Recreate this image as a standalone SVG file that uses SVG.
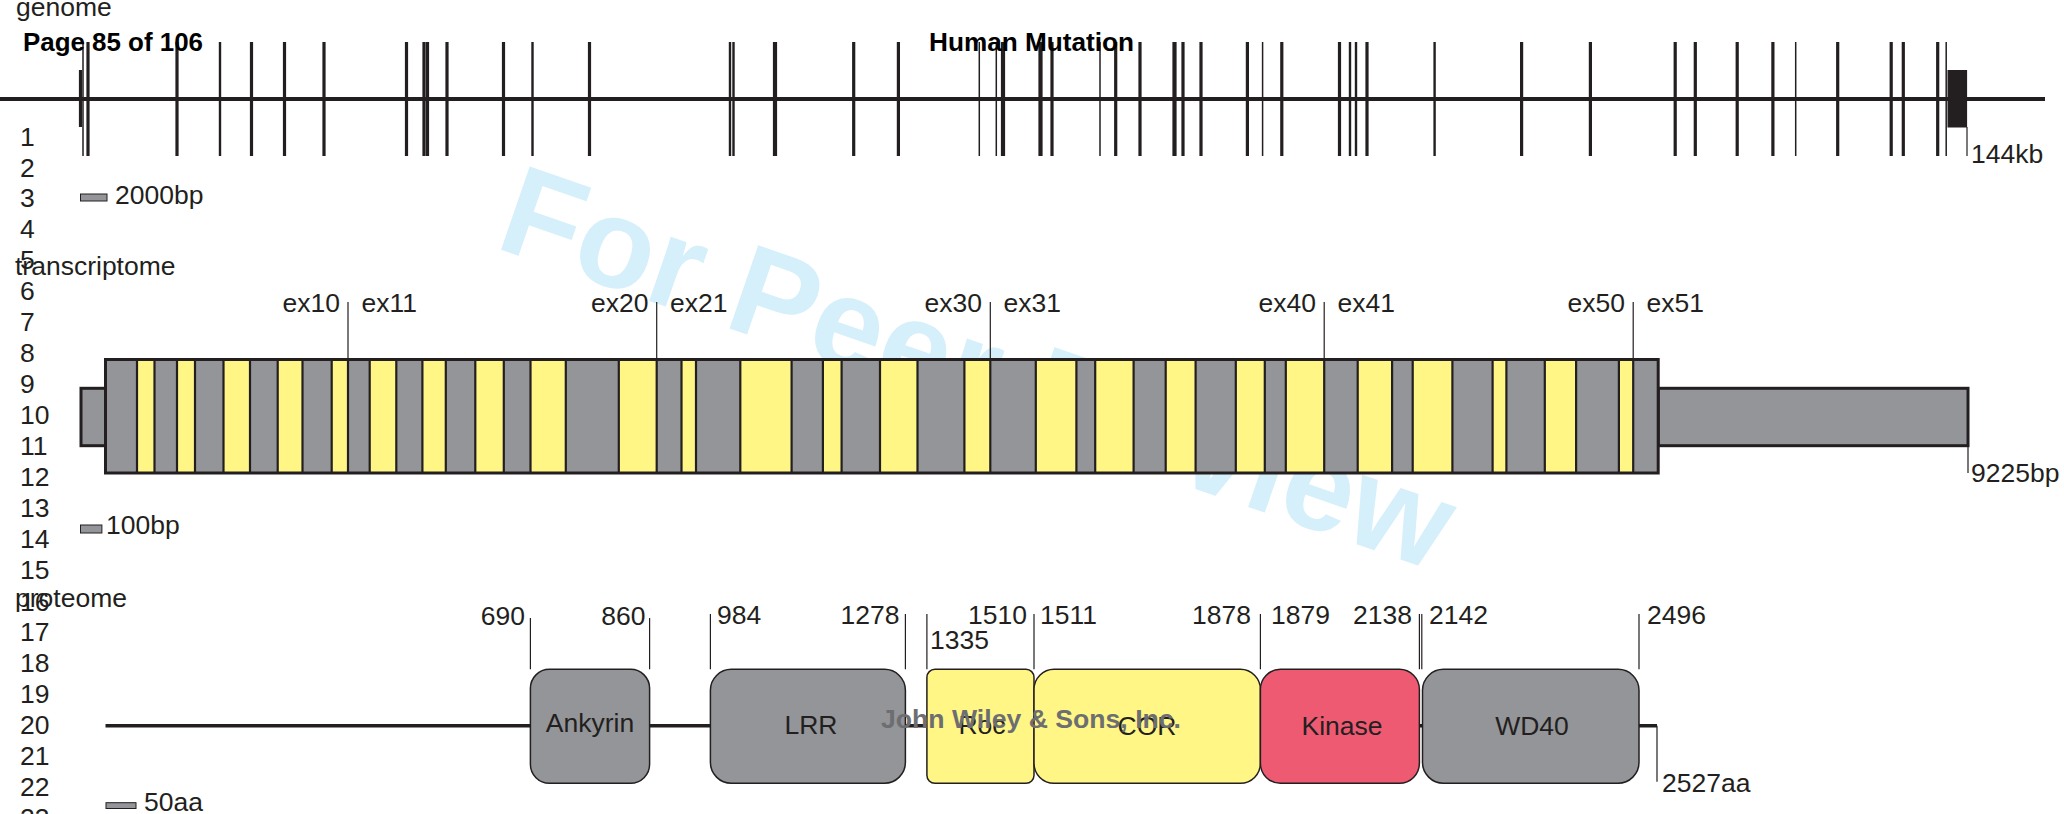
<svg xmlns="http://www.w3.org/2000/svg" width="2064" height="814" viewBox="0 0 2064 814">
<style>
text{font-family:"Liberation Sans",Arial,Helvetica,sans-serif;fill:#231f20;font-size:26.5px}
.hdr{font-weight:bold;fill:#000;font-size:25px}
.num{fill:#000;font-size:25.5px}
.wm{font-weight:bold;fill:#d5effb;font-size:128px}
.jw{font-weight:bold;fill:#6d6e71;font-size:26px}
.gr{fill:#939598}
.ye{fill:#fff685}
.rd{fill:#ef5a73}
.ln{stroke:#231f20;fill:none}
.dom{stroke:#231f20;stroke-width:1.5}
.mid{text-anchor:middle}
.end{text-anchor:end}
</style>
<text class="wm" transform="translate(493,247) rotate(19)">For Peer Review</text>
<g id="genome">
<text x="16" y="15.7">genome</text>
<line class="ln" x1="0" y1="99" x2="2045" y2="99" stroke-width="4.2"/>
<path class="ln" stroke-width="3.2" d="M80.5 70V127M88 42V156M177 42V156M251.5 42V156M284.5 42V156M324 42V156M406.5 42V156M424 42V156M427.5 42V156M447 42V156M503.5 42V156M589.5 42V156M853.7 42V156M898.4 42V156M1052 42V156M1115.7 42V156M1140 42V156M1183 42V156M1201 42V156M1247.4 42V156M1281.8 42V156M1339.5 42V156M1367 42V156M1521.6 42V156M1590.4 42V156M1675.2 42V156M1695.3 42V156M1737.2 42V156M1772.9 42V156M1837.7 42V156M1891.2 42V156M1903.3 42V156M1937.7 42V156"/>
<path class="ln" stroke-width="2.4" d="M220 42V156M532.5 42V156M730 42V156M733.5 42V156M1350 42V156M1356 42V156M1434.6 42V156"/>
<path class="ln" stroke-width="4.2" d="M775 42V156M1003 42V156M1040.5 42V156M1174.5 42V156"/>
<path class="ln" stroke-width="1.5" d="M83 42V156M979.3 42V156M996.3 42V156M1100 42V156M1262.6 42V156M1795.7 42V156M1946.2 42V156"/>
<rect x="1947.5" y="70" width="19.6" height="57.5" fill="#231f20"/>
<line class="ln" x1="1967" y1="127" x2="1967" y2="156" stroke-width="1.2"/>
<text x="1971" y="163.3">144kb</text>
<rect class="gr" x="80.5" y="194" width="26.5" height="7" stroke="#231f20" stroke-width="1"/>
<text x="115" y="203.5">2000bp</text>
</g>
<g id="transcriptome">
<text x="15" y="275">transcriptome</text>
<rect class="gr" x="81" y="388.3" width="24.5" height="57.4" stroke="#231f20" stroke-width="3"/>
<rect class="gr" x="1658.2" y="388.3" width="309.8" height="57.4" stroke="#231f20" stroke-width="3"/>
<rect class="gr" x="105.5" y="359.5" width="1552.7" height="113.5"/>
<g class="ye">
<rect x="137" y="359.5" width="17.5" height="113.5"/>
<rect x="177" y="359.5" width="18" height="113.5"/>
<rect x="223.5" y="359.5" width="26.5" height="113.5"/>
<rect x="277.7" y="359.5" width="24.8" height="113.5"/>
<rect x="331.7" y="359.5" width="16.3" height="113.5"/>
<rect x="369.7" y="359.5" width="26.6" height="113.5"/>
<rect x="422.4" y="359.5" width="23.4" height="113.5"/>
<rect x="475.3" y="359.5" width="28.5" height="113.5"/>
<rect x="530.5" y="359.5" width="35.3" height="113.5"/>
<rect x="618.8" y="359.5" width="37.9" height="113.5"/>
<rect x="681.5" y="359.5" width="14.5" height="113.5"/>
<rect x="740.3" y="359.5" width="51.3" height="113.5"/>
<rect x="822.9" y="359.5" width="18.7" height="113.5"/>
<rect x="880" y="359.5" width="37.5" height="113.5"/>
<rect x="964.4" y="359.5" width="25.9" height="113.5"/>
<rect x="1035.8" y="359.5" width="40.6" height="113.5"/>
<rect x="1095.2" y="359.5" width="38.4" height="113.5"/>
<rect x="1165.7" y="359.5" width="29.9" height="113.5"/>
<rect x="1235.8" y="359.5" width="29" height="113.5"/>
<rect x="1285.8" y="359.5" width="38.4" height="113.5"/>
<rect x="1357.7" y="359.5" width="34.4" height="113.5"/>
<rect x="1412.7" y="359.5" width="39.7" height="113.5"/>
<rect x="1492.6" y="359.5" width="13.8" height="113.5"/>
<rect x="1544.8" y="359.5" width="31.3" height="113.5"/>
<rect x="1618.9" y="359.5" width="14.3" height="113.5"/>
</g>
<path class="ln" stroke-width="2.2" d="M137 359.5V473M154.5 359.5V473M177 359.5V473M195 359.5V473M223.5 359.5V473M250 359.5V473M277.7 359.5V473M302.5 359.5V473M331.7 359.5V473M348 359.5V473M369.7 359.5V473M396.3 359.5V473M422.4 359.5V473M445.8 359.5V473M475.3 359.5V473M503.8 359.5V473M530.5 359.5V473M565.8 359.5V473M618.8 359.5V473M656.7 359.5V473M681.5 359.5V473M696 359.5V473M740.3 359.5V473M791.6 359.5V473M822.9 359.5V473M841.6 359.5V473M880 359.5V473M917.5 359.5V473M964.4 359.5V473M990.3 359.5V473M1035.8 359.5V473M1076.4 359.5V473M1095.2 359.5V473M1133.6 359.5V473M1165.7 359.5V473M1195.6 359.5V473M1235.8 359.5V473M1264.8 359.5V473M1285.8 359.5V473M1324.2 359.5V473M1357.7 359.5V473M1392.1 359.5V473M1412.7 359.5V473M1452.4 359.5V473M1492.6 359.5V473M1506.4 359.5V473M1544.8 359.5V473M1576.1 359.5V473M1618.9 359.5V473M1633.2 359.5V473"/>
<rect x="105.5" y="359.5" width="1552.7" height="113.5" fill="none" stroke="#231f20" stroke-width="3"/>
<path class="ln" stroke-width="1.2" d="M348 302V359M656.7 302V359M990.3 302V359M1324.2 302V359M1633.2 302V359M1968 446V473"/>
<text class="end" x="340" y="312">ex10</text><text x="361.5" y="312">ex11</text>
<text class="end" x="648.5" y="312">ex20</text><text x="670" y="312">ex21</text>
<text class="end" x="982" y="312">ex30</text><text x="1003.5" y="312">ex31</text>
<text class="end" x="1316" y="312">ex40</text><text x="1337.5" y="312">ex41</text>
<text class="end" x="1625" y="312">ex50</text><text x="1646.5" y="312">ex51</text>
<text x="1971" y="481.7">9225bp</text>
<rect class="gr" x="80.5" y="525" width="21.4" height="8" stroke="#231f20" stroke-width="1"/>
<text x="106" y="533.5">100bp</text>
</g>
<g id="proteome">
<text x="15" y="607">proteome</text>
<line class="ln" x1="105.5" y1="725.7" x2="1657" y2="725.7" stroke-width="3.5"/>
<path class="ln" stroke-width="1.2" d="M1657 725.7V781.7M530.4 618V669.3M649.6 618V669.3M710.4 614V669.3M905.4 614V669.3M926.9 614V669.3M1034 614V669.3M1260.4 614V669.3M1419.4 614V669.3M1421.8 614V669.3M1639 614V669.3"/>
<text x="1662" y="791.7">2527aa</text>
<g id="ankyrin"><rect class="gr dom" x="530.4" y="669.3" width="119.2" height="114" rx="19"/><text class="mid" x="590" y="732">Ankyrin</text></g>
<g id="lrr"><rect class="gr dom" x="710.4" y="669.3" width="195" height="114" rx="21"/><text class="mid" x="811" y="734">LRR</text></g>
<g id="roc"><rect class="ye dom" x="926.9" y="669.3" width="107.1" height="114" rx="8"/><text class="mid" x="982" y="734">Roc</text></g>
<g id="cor"><rect class="ye dom" x="1034" y="669.3" width="226.4" height="114" rx="20"/><text class="mid" x="1147" y="735">COR</text></g>
<g id="kinase"><rect class="rd dom" x="1260.4" y="669.3" width="159" height="114" rx="20"/><text class="mid" x="1342" y="735">Kinase</text></g>
<g id="wd40"><rect class="gr dom" x="1422.5" y="669.3" width="216.5" height="114" rx="21"/><text class="mid" x="1532" y="735">WD40</text></g>
<text class="end" x="525" y="624.5">690</text>
<text class="end" x="645.5" y="624.5">860</text>
<text x="717" y="624">984</text>
<text class="end" x="899.5" y="624">1278</text>
<text x="930" y="649.3">1335</text>
<text class="end" x="1027" y="624">1510</text>
<text x="1040" y="624">1511</text>
<text class="end" x="1251" y="624">1878</text>
<text x="1271" y="624">1879</text>
<text class="end" x="1412" y="624">2138</text>
<text x="1429" y="624">2142</text>
<text x="1647" y="624">2496</text>
<rect class="gr" x="106" y="802.7" width="30" height="5.8" stroke="#231f20" stroke-width="1"/>
<text x="144" y="810.7">50aa</text>
</g>
<g id="page-text">
<text class="hdr" x="23" y="50.5" textLength="180" lengthAdjust="spacingAndGlyphs">Page 85 of 106</text>
<text class="hdr" x="929" y="50.7" textLength="205" lengthAdjust="spacingAndGlyphs">Human Mutation</text>
<text class="jw" x="881" y="728.3" textLength="300" lengthAdjust="spacingAndGlyphs">John Wiley &amp; Sons, Inc.</text>
<g class="num">
<text x="20" y="145.5">1</text><text x="20" y="176.5">2</text><text x="20" y="207.4">3</text><text x="20" y="238.4">4</text><text x="20" y="269.4">5</text><text x="20" y="300.4">6</text><text x="20" y="331.3">7</text><text x="20" y="362.3">8</text><text x="20" y="393.3">9</text><text x="20" y="424.2">10</text><text x="20" y="455.2">11</text><text x="20" y="486.2">12</text><text x="20" y="517.1">13</text><text x="20" y="548.1">14</text><text x="20" y="579.1">15</text><text x="20" y="610.5">16</text><text x="20" y="641">17</text><text x="20" y="672">18</text><text x="20" y="703">19</text><text x="20" y="733.9">20</text><text x="20" y="764.9">21</text><text x="20" y="795.9">22</text><text x="20" y="826.8">23</text>
</g>
</g>
</svg>
